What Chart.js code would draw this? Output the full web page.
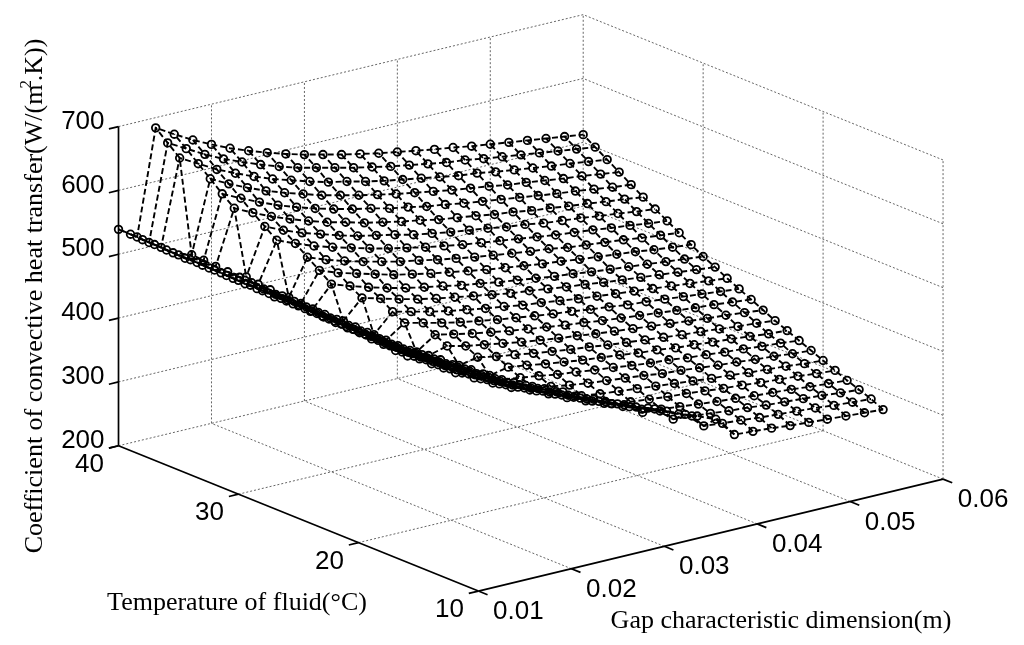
<!DOCTYPE html>
<html lang="en">
<head>
<meta charset="UTF-8">
<title>Coefficient of convective heat transfer</title>
<style>
    html, body {
        margin: 0;
        padding: 0;
        background: #fff;
    }
    .wrap {
        position: relative;
        width: 1024px;
        height: 645px;
    }
</style>
</head>
<body>
<div class="wrap"><canvas id="surfaceChart"></canvas></div>

<script src="https://cdn.jsdelivr.net/npm/chart.js"></script>
<script>
    // surface grid
    const gapValues = [0.010, 0.012, 0.014, 0.016, 0.018, 0.020, 0.022, 0.024, 0.026, 0.028,
                       0.030, 0.032, 0.034, 0.036, 0.038, 0.040, 0.042, 0.044, 0.046, 0.048,
                       0.050, 0.052, 0.054, 0.056, 0.058, 0.060];
    const tempValues = [15, 16, 17, 18, 19, 20, 21, 22, 23, 24, 25, 26, 27,
                        28, 29, 30, 31, 32, 33, 34, 35, 36, 37, 38, 39, 40];

    // coefficient W/(m2.K), one row per fluid temperature, along gapValues
    const hT15 = [532,515,490,475,460,446,435,422,409,397,386,374,363,353,341,331,319,288,286,284,281,279,277,275,273,271];
    const hT16 = [530,514,490,475,459,444,432,419,407,395,382,371,359,350,338,326,301,298,296,293,291,289,287,284,282,280];
    const hT17 = [530,512,489,474,459,443,428,416,404,391,379,367,356,344,334,311,309,306,303,301,298,296,294,292,289,287];
    const hT18 = [531,511,489,473,458,443,427,413,401,388,376,363,352,340,321,319,316,313,310,308,305,303,301,298,296,294];
    const hT19 = [531,511,486,473,457,442,427,411,399,386,374,360,348,334,330,327,324,322,319,316,314,311,309,307,304,302];
    const hT20 = [531,512,487,471,456,441,426,410,395,383,371,359,346,342,339,336,333,330,327,324,322,319,317,315,312,310];
    const hT21 = [531,512,489,470,455,440,425,408,393,380,367,360,355,351,348,345,342,338,336,333,330,328,325,323,320,318];
    const hT22 = [532,512,490,472,455,439,423,408,393,377,373,369,364,361,357,354,350,347,345,341,339,336,334,331,329,326];
    const hT23 = [532,513,492,473,455,439,423,407,392,376,382,378,373,369,365,362,359,355,353,349,347,344,342,339,336,334];
    const hT24 = [532,513,492,474,455,438,422,407,391,397,391,387,382,378,374,371,367,364,361,358,355,353,350,347,345,342];
    const hT25 = [533,514,493,475,457,438,421,406,414,407,402,397,392,388,384,381,377,374,371,368,365,362,359,357,354,351];
    const hT26 = [533,514,494,476,458,439,421,404,424,418,412,407,402,398,394,390,387,383,380,377,374,371,368,366,363,360];
    const hT27 = [532,514,496,478,459,441,422,442,435,428,422,417,412,408,404,400,397,393,390,386,384,381,378,375,372,369];
    const hT28 = [534,515,497,479,461,442,423,452,445,438,432,427,422,418,413,410,406,402,399,396,393,390,387,384,381,378];
    const hT29 = [535,515,498,480,461,444,473,465,457,450,444,439,434,429,424,421,417,413,410,406,403,400,397,394,391,388];
    const hT30 = [535,515,499,481,462,494,484,475,467,460,454,449,443,439,434,430,426,422,419,415,412,409,406,403,400,397];
    const hT31 = [535,515,500,482,463,508,497,489,481,473,467,461,456,451,446,442,438,434,431,427,424,421,418,414,411,408];
    const hT32 = [536,516,502,484,465,521,510,501,493,486,479,474,468,463,458,454,450,446,443,438,435,432,429,425,422,419];
    const hT33 = [536,517,503,485,547,535,524,515,507,499,492,486,480,475,470,466,462,458,454,450,447,444,440,437,433,430];
    const hT34 = [537,517,504,489,561,548,537,528,519,511,505,499,492,487,482,478,474,469,466,461,458,455,451,448,444,441];
    const hT35 = [537,518,505,589,575,562,551,541,532,525,517,511,505,500,494,490,486,481,478,473,470,466,463,459,456,452];
    const hT36 = [537,517,507,604,590,577,565,555,546,538,531,525,518,513,507,503,498,494,490,486,482,478,475,471,467,464];
    const hT37 = [538,518,508,620,605,592,580,570,561,552,545,538,532,526,521,516,511,507,503,498,495,491,487,484,480,476];
    const hT38 = [538,519,652,636,620,607,595,584,575,566,558,552,545,539,534,529,524,519,516,511,507,503,499,496,492,488];
    const hT39 = [539,519,668,652,636,622,610,599,589,580,573,566,559,553,547,542,537,532,529,524,520,516,512,508,504,500];
    const hT40 = [539,520,684,667,651,637,624,613,603,594,586,579,572,566,560,555,550,545,541,536,532,528,524,520,516,512];

    const coefRows = [hT15, hT16, hT17, hT18, hT19, hT20, hT21, hT22, hT23, hT24, hT25, hT26, hT27,
                      hT28, hT29, hT30, hT31, hT32, hT33, hT34, hT35, hT36, hT37, hT38, hT39, hT40];

    // axes
    const gapTicks = [0.01, 0.02, 0.03, 0.04, 0.05, 0.06];
    const gapTickLabels = ['0.01', '0.02', '0.03', '0.04', '0.05', '0.06'];
    const tempTicks = [10, 20, 30, 40];
    const coefTicks = [200, 300, 400, 500, 600, 700];

    const gapMin = gapTicks[0], gapMax = gapTicks[gapTicks.length - 1];
    const tempMin = tempTicks[0], tempMax = tempTicks[tempTicks.length - 1];
    const coefMin = coefTicks[0], coefMax = coefTicks[coefTicks.length - 1];

    // view of the 3d box on the page (front corner and the three edge vectors)
    const view = {
        origin: [478, 596],
        gapEdge: [470, -114],
        tempEdge: [-364, -148],
        coefEdge: [0, -325]
    };

    function project(g, t, h) {
        const a = (g - gapMin) / (gapMax - gapMin);
        const b = (t - tempMin) / (tempMax - tempMin);
        const c = (h - coefMin) / (coefMax - coefMin);
        return {
            x: view.origin[0] + a * view.gapEdge[0] + b * view.tempEdge[0] + c * view.coefEdge[0],
            y: view.origin[1] + a * view.gapEdge[1] + b * view.tempEdge[1] + c * view.coefEdge[1]
        };
    }

    function lineSet(points, style) {
        return Object.assign({
            data: points,
            showLine: true,
            pointRadius: 0,
            pointHoverRadius: 0,
            fill: false,
            tension: 0
        }, style);
    }

    const meshStyle = { borderColor: '#000', borderWidth: 1.9, borderDash: [6, 3] };
    const gridStyle = { borderColor: '#555', borderWidth: 0.9, borderDash: [2, 2] };
    const axisStyle = { borderColor: '#000', borderWidth: 1.7 };

    const datasets = [];

    // markers
    const markerPoints = [];
    tempValues.forEach((t, j) => {
        gapValues.forEach((g, i) => markerPoints.push(project(g, t, coefRows[j][i])));
    });
    datasets.push({
        data: markerPoints,
        showLine: false,
        pointStyle: 'circle',
        pointRadius: 3.8,
        pointBorderWidth: 1.8,
        pointBorderColor: '#000',
        pointBackgroundColor: 'rgba(0,0,0,0)'
    });

    // mesh lines along the gap and along the temperature
    tempValues.forEach((t, j) => {
        datasets.push(lineSet(gapValues.map((g, i) => project(g, t, coefRows[j][i])), meshStyle));
    });
    gapValues.forEach((g, i) => {
        datasets.push(lineSet(tempValues.map((t, j) => project(g, t, coefRows[j][i])), meshStyle));
    });

    // axis lines and ticks
    datasets.push(lineSet([project(gapMin, tempMin, coefMin), project(gapMax, tempMin, coefMin)], axisStyle));
    datasets.push(lineSet([project(gapMin, tempMin, coefMin), project(gapMin, tempMax, coefMin)], axisStyle));
    datasets.push(lineSet([project(gapMin, tempMax, coefMin), project(gapMin, tempMax, coefMax)], axisStyle));
    const tickLen = 10;
    const gapTickDir = [0.926, 0.377];
    const sideTickDir = [-0.972, 0.236];
    function tickSet(p, dir) {
        return lineSet([p, { x: p.x + dir[0] * tickLen, y: p.y + dir[1] * tickLen }], axisStyle);
    }
    gapTicks.forEach(g => datasets.push(tickSet(project(g, tempMin, coefMin), gapTickDir)));
    tempTicks.forEach(t => datasets.push(tickSet(project(gapMin, t, coefMin), sideTickDir)));
    coefTicks.forEach(h => datasets.push(tickSet(project(gapMin, tempMax, h), sideTickDir)));

    // grid on the floor and the two back walls
    gapTicks.slice(1).forEach(g => {
        datasets.push(lineSet([project(g, tempMin, coefMin), project(g, tempMax, coefMin)], gridStyle));
        datasets.push(lineSet([project(g, tempMax, coefMin), project(g, tempMax, coefMax)], gridStyle));
    });
    tempTicks.slice(1).forEach(t => {
        datasets.push(lineSet([project(gapMin, t, coefMin), project(gapMax, t, coefMin)], gridStyle));
    });
    tempTicks.slice(0, -1).forEach(t => {
        datasets.push(lineSet([project(gapMax, t, coefMin), project(gapMax, t, coefMax)], gridStyle));
    });
    coefTicks.slice(1).forEach(h => {
        datasets.push(lineSet([project(gapMin, tempMax, h), project(gapMax, tempMax, h), project(gapMax, tempMin, h)], gridStyle));
    });

    const axisText = {
        id: 'axisText',
        afterDraw(chart) {
            const ctx = chart.ctx;
            const xs = chart.scales.x, ys = chart.scales.y;
            const at = p => [xs.getPixelForValue(p.x), ys.getPixelForValue(p.y)];
            ctx.save();
            ctx.fillStyle = '#000';
            ctx.font = '26px "Liberation Sans", Arial, sans-serif';
            ctx.textBaseline = 'middle';

            ctx.textAlign = 'center';
            gapTicks.forEach((g, k) => {
                const [px, py] = at(project(g, tempMin, coefMin));
                ctx.fillText(gapTickLabels[k], px + 40, py + 21);
            });
            tempTicks.forEach(t => {
                const [px, py] = at(project(gapMin, t, coefMin));
                ctx.fillText(String(t), px - 29, py + 19);
            });
            ctx.textAlign = 'right';
            coefTicks.forEach(h => {
                const [px, py] = at(project(gapMin, tempMax, h));
                ctx.fillText(String(h), px - 14, py - 5);
            });

            ctx.font = '26px "Liberation Serif", "Times New Roman", serif';
            ctx.textAlign = 'center';
            ctx.fillText('Temperature of fluid(\u00B0C)', 237, 603);
            ctx.fillText('Gap characteristic dimension(m)', 781, 621);

            // vertical title with the squared metre
            const head = 'Coefficient of convective heat transfer(W/(m';
            const tail = '.K))';
            const wHead = ctx.measureText(head).width;
            const wTail = ctx.measureText(tail).width;
            ctx.font = '17px "Liberation Serif", "Times New Roman", serif';
            const wSup = ctx.measureText('2').width * 0.4;
            const total = wHead + wSup + wTail;
            ctx.translate(42, 296);
            ctx.rotate(-Math.PI / 2);
            ctx.textAlign = 'left';
            ctx.textBaseline = 'alphabetic';
            ctx.font = '26px "Liberation Serif", "Times New Roman", serif';
            ctx.fillText(head, -total / 2, 0);
            ctx.font = '17px "Liberation Serif", "Times New Roman", serif';
            ctx.fillText('2', -total / 2 + wHead - 4, -11);
            ctx.font = '26px "Liberation Serif", "Times New Roman", serif';
            ctx.fillText(tail, -total / 2 + wHead + wSup, 0);
            ctx.restore();
        }
    };

    new Chart(document.getElementById('surfaceChart'), {
        type: 'scatter',
        data: { datasets: datasets },
        options: {
            responsive: true,
            maintainAspectRatio: false,
            animation: false,
            events: [],
            layout: { padding: 0 },
            plugins: {
                legend: { display: false },
                tooltip: { enabled: false }
            },
            scales: {
                x: { type: 'linear', display: false, min: 0, max: 1024 },
                y: { type: 'linear', display: false, min: 0, max: 645, reverse: true }
            }
        },
        plugins: [axisText]
    });
</script>
</body>
</html>
